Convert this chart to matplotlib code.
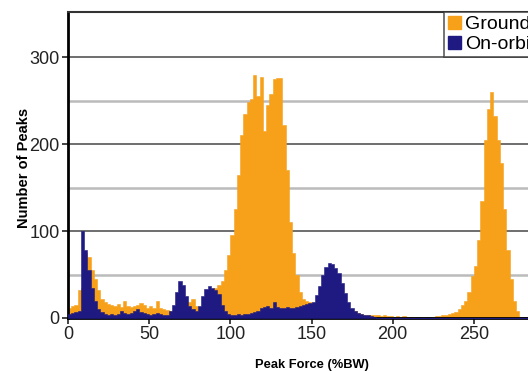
import numpy as np
import matplotlib
matplotlib.use("Agg")
import matplotlib.pyplot as plt
from matplotlib.patches import Patch

plt.rcParams['font.family'] = ['Liberation Sans', 'DejaVu Sans']

# histogram bins, 2 %BW wide
bin_width = 2
bin_edges = np.arange(0, 286, bin_width)

ground = [12, 14, 15, 32, 35, 75, 70, 55, 45, 32,
          22, 18, 16, 15, 14, 16, 13, 20, 14, 13,
          14, 15, 17, 15, 12, 14, 11, 20, 12, 10,
          9, 8, 8, 10, 12, 14, 12, 18, 22, 14,
          10, 12, 20, 25, 30, 35, 38, 42, 55, 72,
          95, 125, 165, 210, 235, 248, 252, 280, 255, 277,
          215, 245, 258, 275, 276, 276, 222, 170, 110, 75,
          50, 30, 22, 20, 18, 15, 14, 12, 11, 10,
          10, 9, 9, 8, 8, 8, 7, 7, 8, 6,
          5, 4, 3, 4, 3, 3, 2, 3, 2, 2,
          1, 2, 1, 2, 1, 0, 1, 0, 0, 1,
          0, 0, 1, 2, 2, 3, 4, 5, 6, 7,
          10, 15, 20, 30, 48, 60, 90, 135, 205, 240,
          260, 232, 205, 178, 125, 78, 45, 20, 8, 0,
          0, 0]

on_orbit = [5, 6, 7, 8, 100, 78, 55, 35, 20, 10,
            7, 5, 4, 5, 4, 5, 8, 6, 5, 6,
            8, 10, 7, 6, 5, 4, 5, 6, 5, 4,
            3, 8, 15, 30, 42, 38, 25, 14, 10, 8,
            14, 25, 33, 37, 35, 32, 28, 15, 8, 5,
            4, 4, 5, 4, 5, 5, 6, 7, 8, 12,
            13, 14, 12, 18, 13, 12, 11, 13, 12, 11,
            13, 14, 15, 16, 17, 18, 26, 37, 49, 59,
            63, 62, 58, 52, 40, 29, 18, 11, 8, 6,
            5, 4, 3, 2, 1] + [0] * 47

x_ticks = [0, 50, 100, 150, 200, 250]
y_ticks = [0, 100, 200, 300]

orange = '#F7A11B'
navy = '#1E1A82'

fig = plt.figure(figsize=(5.28, 3.71), dpi=100)
ax = fig.add_axes([68 / 528, 53 / 371, 487 / 528, 306 / 371])

# step outlines: repeat last value so the final bin gets its right edge
ground_steps = np.append(ground, ground[-1])
orbit_steps = np.append(on_orbit, on_orbit[-1])
ax.fill_between(bin_edges, ground_steps, step='post', color=orange,
                linewidth=0.4, edgecolor=orange, zorder=2)
ax.fill_between(bin_edges, orbit_steps, step='post', color=navy,
                linewidth=0.4, edgecolor=navy, zorder=3)

ax.set_xlim(0, 300)
ax.set_ylim(0, 352)
ax.set_xticks(x_ticks)
ax.set_yticks(y_ticks)
ax.set_yticks([50, 150, 250], minor=True)
ax.grid(axis='y', which='major', color='#555555', linewidth=1.2, zorder=1)
ax.grid(axis='y', which='minor', color='#bbbbbb', linewidth=1.8, zorder=1)
ax.tick_params(axis='y', which='minor', length=0)
ax.tick_params(axis='both', which='major', labelsize=13, length=4, width=1.2,
               colors='#222222', pad=2)
ax.set_axisbelow(True)

for side in ['left', 'bottom']:
    ax.spines[side].set_linewidth(2)
ax.spines['top'].set_linewidth(1.5)
ax.spines['top'].set_color('#333333')

ax.set_ylabel('Number of Peaks', fontsize=10.5, fontweight='bold')
ax.yaxis.set_label_coords(-0.075, 0.49)
ax.set_xlabel('Peak Force (%BW)', fontsize=9.3, fontweight='bold')
ax.xaxis.set_label_coords(150 / 300, -0.135)

handles = [Patch(color=orange, label='Ground'), Patch(color=navy, label='On-orbit')]
leg = fig.legend(handles=handles, loc='upper left', bbox_to_anchor=(444 / 528, 1 - 12 / 371),
                 fontsize=14, frameon=True, fancybox=False, borderpad=0.2,
                 handlelength=0.65, handleheight=0.65, handletextpad=0.25,
                 labelspacing=0.15, borderaxespad=0)
leg.get_frame().set_edgecolor('#333333')
leg.get_frame().set_linewidth(1.2)

fig.savefig('out.png', dpi=100)
